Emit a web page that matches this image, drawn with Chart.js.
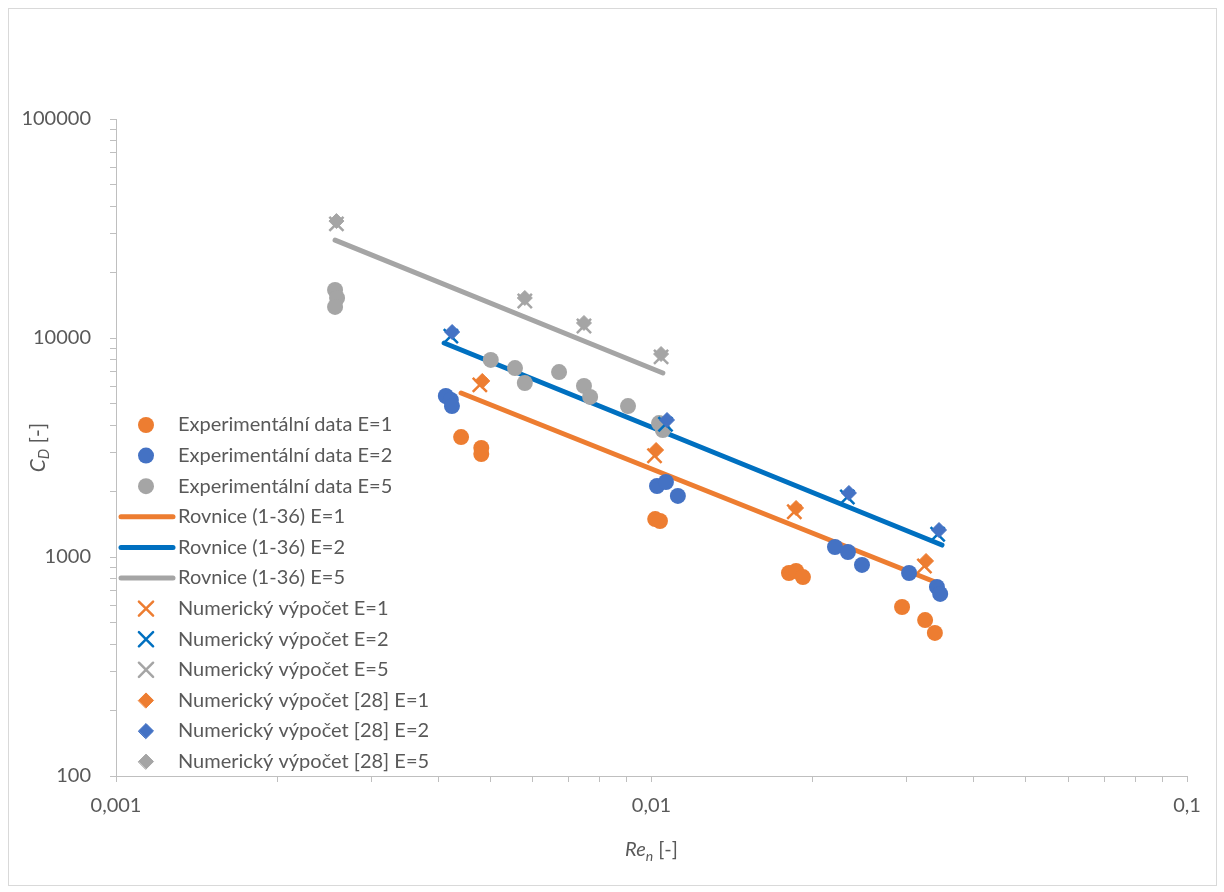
<!DOCTYPE html>
<html>
<head>
<meta charset="utf-8">
<script src="https://cdn.jsdelivr.net/npm/chart.js@4"></script>
<style>
  body { margin: 0; background: #fff; }
  #wrap { position: relative; width: 1224px; height: 892px; }
  #frame { position: absolute; left: 8px; top: 8px; width: 1207px; height: 876px; border: 1px solid #d9d9d9; pointer-events: none; }
</style>
</head>
<body>
<div id="wrap">
  <canvas id="cd-chart" width="1224" height="892"></canvas>
  <div id="frame"></div>
</div>
<script>
// experimental data
const expRe1 = [0.00441, 0.00481, 0.00481, 0.01016, 0.01037, 0.01806, 0.01862, 0.01918, 0.02937, 0.03243, 0.03382];
const expCd1 = [3530, 3145, 2950, 1490, 1460, 845, 863, 810, 591, 515, 450];
const expRe2 = [0.00413, 0.00422, 0.00424, 0.01024, 0.01064, 0.0112, 0.02201, 0.02327, 0.02472, 0.03027, 0.03412, 0.0346];
const expCd2 = [5435, 5210, 4890, 2110, 2200, 1900, 1111, 1054, 920, 845, 730, 678];
const expRe5 = [0.002565, 0.002587, 0.002565, 0.00501, 0.00556, 0.0058, 0.00672, 0.00748, 0.00768, 0.00904, 0.01033, 0.0105];
const expCd5 = [16560, 15230, 13860, 7940, 7290, 6230, 6990, 6040, 5380, 4890, 4090, 3800];

// equation (1-36), end points of each line
const eqRe1 = [0.00441, 0.0346];
const eqCd1 = [5610, 753];
const eqRe2 = [0.0041, 0.03487];
const eqCd2 = [9490, 1134];
const eqRe5 = [0.002565, 0.0105];
const eqCd5 = [28000, 6920];

// numerical results
const numRe1 = [0.00478, 0.01013, 0.01848, 0.03233];
const numCd1 = [6110, 2900, 1610, 910];
const numRe2 = [0.00422, 0.01062, 0.02321, 0.03423];
const numCd2 = [10200, 4040, 1880, 1270];
const numRe5 = [0.00258, 0.0058, 0.00748, 0.01042];
const numCd5 = [33200, 14750, 11350, 8200];

// numerical results from [28]
const refRe1 = [0.00483, 0.0102, 0.01862, 0.03256];
const refCd1 = [6365, 3080, 1674, 959];
const refRe2 = [0.004243, 0.01069, 0.02337, 0.03443];
const refCd2 = [10650, 4222, 1960, 1328];
const refRe5 = [0.00258, 0.0058, 0.00748, 0.01042];
const refCd5 = [34200, 15230, 11710, 8450];

const xMajorTicks = [0.001, 0.01, 0.1];
const yMajorTicks = [100, 1000, 10000, 100000];

const ORANGE = '#ED7D31';
const BLUE = '#4472C4';
const BLUE_LINE = '#0070C0';
const GRAY = '#A5A5A5';
const TEXT = '#595959';
const FONT = "Lato, 'Open Sans', sans-serif";

const pts = (xs, ys) => xs.map((x, i) => ({ x: x, y: ys[i] }));

// 1..9 in every decade, only the powers of ten are labelled
const logTicks = (majors) => {
  const out = [];
  majors.forEach((m, i) => {
    out.push({ value: m, major: true });
    if (i < majors.length - 1) {
      for (let k = 2; k <= 9; k++) out.push({ value: m * k });
    }
  });
  return out;
};

const dots = (label, xs, ys, color) => ({
  label, data: pts(xs, ys), order: 3,
  pointStyle: 'circle', pointRadius: 8,
  backgroundColor: color, borderColor: color, borderWidth: 0
});
const eqLine = (label, xs, ys, color) => ({
  label, data: pts(xs, ys), order: 4, showLine: true,
  pointRadius: 0, borderColor: color, backgroundColor: color,
  borderWidth: 5, borderCapStyle: 'round'
});
const crosses = (label, xs, ys, color) => ({
  label, data: pts(xs, ys), order: 2,
  pointStyle: 'crossRot', pointRadius: 10,
  borderColor: color, backgroundColor: color, borderWidth: 2.5
});
const diamonds = (label, xs, ys, color) => ({
  label, data: pts(xs, ys), order: 1,
  pointStyle: 'rectRot', pointRadius: 7.5,
  borderColor: color, backgroundColor: color, borderWidth: 1
});

const datasets = [
  dots('Experimentální data E=1', expRe1, expCd1, ORANGE),
  dots('Experimentální data E=2', expRe2, expCd2, BLUE),
  dots('Experimentální data E=5', expRe5, expCd5, GRAY),
  eqLine('Rovnice (1-36) E=1', eqRe1, eqCd1, ORANGE),
  eqLine('Rovnice (1-36) E=2', eqRe2, eqCd2, BLUE_LINE),
  eqLine('Rovnice (1-36) E=5', eqRe5, eqCd5, GRAY),
  crosses('Numerický výpočet E=1', numRe1, numCd1, ORANGE),
  crosses('Numerický výpočet E=2', numRe2, numCd2, BLUE_LINE),
  crosses('Numerický výpočet E=5', numRe5, numCd5, GRAY),
  diamonds('Numerický výpočet [28] E=1', refRe1, refCd1, ORANGE),
  diamonds('Numerický výpočet [28] E=2', refRe2, refCd2, BLUE),
  diamonds('Numerický výpočet [28] E=5', refRe5, refCd5, GRAY)
];

// writes text made of parts, some italic and/or subscript, centred on cx
const drawRichText = (ctx, parts, cx, cy, size) => {
  const fontOf = (p) => (p.italic ? 'italic ' : '') + (p.sub ? size * 0.7 : size) + 'px ' + FONT;
  let total = 0;
  parts.forEach((p) => { ctx.font = fontOf(p); total += ctx.measureText(p.text).width; });
  let x = cx - total / 2;
  parts.forEach((p) => {
    ctx.font = fontOf(p);
    ctx.fillText(p.text, x, p.sub ? cy + size * 0.3 : cy);
    x += ctx.measureText(p.text).width;
  });
};

const overlay = {
  id: 'overlay',
  afterDraw(chart) {
    const ctx = chart.ctx;
    const h = Chart.helpers;
    ctx.save();

    // legend inside the plot, left side
    const left = chart.chartArea.left;
    const top = 425, step = 30.6;
    ctx.textBaseline = 'middle';
    ctx.textAlign = 'left';
    chart.data.datasets.forEach((ds, i) => {
      const y = top + i * step;
      ctx.fillStyle = ds.backgroundColor;
      ctx.strokeStyle = ds.borderColor;
      if (ds.showLine) {
        ctx.lineWidth = ds.borderWidth;
        ctx.lineCap = 'round';
        ctx.beginPath();
        ctx.moveTo(left + 5, y);
        ctx.lineTo(left + 57, y);
        ctx.stroke();
      } else {
        ctx.lineWidth = ds.borderWidth;
        h.drawPoint(ctx, { pointStyle: ds.pointStyle, radius: ds.pointRadius, rotation: 0, borderWidth: ds.borderWidth }, left + 30, y);
      }
      ctx.fillStyle = TEXT;
      ctx.font = '20px ' + FONT;
      ctx.fillText(ds.label, left + 62, y);
    });

    // axis titles
    ctx.fillStyle = TEXT;
    ctx.textAlign = 'left';
    drawRichText(ctx, [
      { text: 'Re', italic: true },
      { text: 'n', italic: true, sub: true },
      { text: ' [-]' }
    ], (chart.chartArea.left + chart.chartArea.right) / 2, 850, 20);

    ctx.translate(38, (chart.chartArea.top + chart.chartArea.bottom) / 2);
    ctx.rotate(-Math.PI / 2);
    drawRichText(ctx, [
      { text: 'C', italic: true },
      { text: 'D', italic: true, sub: true },
      { text: ' [-]' }
    ], 0, 0, 21);
    ctx.restore();
  }
};

const axisCommon = {
  type: 'logarithmic',
  grid: { display: true, drawOnChartArea: false, drawTicks: true, tickLength: 6, color: '#bfbfbf', tickColor: '#bfbfbf' },
  border: { display: true, color: '#bfbfbf', width: 1 },
  title: { display: false }
};

new Chart(document.getElementById('cd-chart'), {
  type: 'scatter',
  data: { datasets: datasets },
  plugins: [overlay],
  options: {
    responsive: false,
    animation: false,
    events: [],
    layout: { padding: { top: 119, right: 37, left: 0, bottom: 0 } },
    plugins: { legend: { display: false }, tooltip: { enabled: false } },
    scales: {
      x: {
        ...axisCommon,
        position: 'bottom',
        min: xMajorTicks[0],
        max: xMajorTicks[xMajorTicks.length - 1],
        afterBuildTicks: (scale) => { scale.ticks = logTicks(xMajorTicks); },
        afterFit: (scale) => { scale.height = 116; },
        ticks: {
          autoSkip: false, maxRotation: 0, padding: 12,
          color: TEXT, font: { family: FONT, size: 20 },
          callback: (v) => xMajorTicks.includes(v) ? String(v).replace('.', ',') : ''
        }
      },
      y: {
        ...axisCommon,
        position: 'left',
        min: yMajorTicks[0],
        max: yMajorTicks[yMajorTicks.length - 1],
        afterBuildTicks: (scale) => { scale.ticks = logTicks(yMajorTicks); },
        afterFit: (scale) => { scale.width = 116; },
        ticks: {
          autoSkip: false, padding: 19,
          color: TEXT, font: { family: FONT, size: 20 },
          callback: (v) => yMajorTicks.includes(v) ? String(v) : ''
        }
      }
    }
  }
});
</script>
</body>
</html>
